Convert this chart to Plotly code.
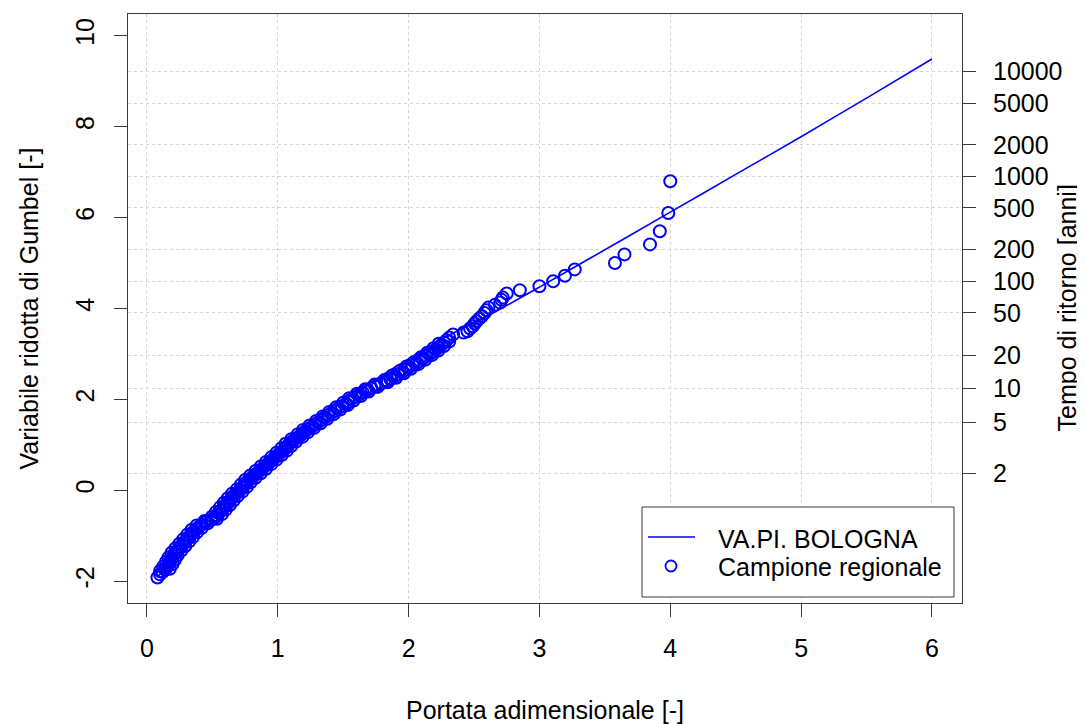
import math
import plotly.graph_objects as go

# ---- Data ----
# Regional sample (dimensionless peak flow vs Gumbel reduced variate)
sample_x = [0.08, 0.10, 0.12, 0.14, 0.15, 0.16, 0.17, 0.18, 0.19, 0.20,
            0.21, 0.225, 0.24, 0.255, 0.27, 0.285, 0.30, 0.315, 0.33, 0.345,
            0.36, 0.38, 0.40, 0.42, 0.45, 0.49, 0.52, 0.535, 0.55, 0.565,
            0.58, 0.595, 0.61, 0.625, 0.64, 0.655, 0.67, 0.69, 0.71, 0.725,
            0.74, 0.755, 0.77, 0.79, 0.81, 0.83, 0.85, 0.87, 0.89, 0.91,
            0.93, 0.95, 0.97, 0.99, 1.01, 1.03, 1.05, 1.065, 1.08, 1.10,
            1.12, 1.145, 1.17, 1.19, 1.21, 1.235, 1.26, 1.285, 1.31, 1.335,
            1.36, 1.385, 1.41, 1.435, 1.46, 1.49, 1.52, 1.54, 1.56, 1.59,
            1.62, 1.65, 1.68, 1.715, 1.75, 1.79, 1.83, 1.86, 1.89, 1.92,
            1.95, 1.975, 2.00, 2.03, 2.06, 2.085, 2.11, 2.135, 2.16, 2.185,
            2.21, 2.23, 2.25, 2.27, 2.29, 2.31, 2.34, 2.42, 2.45, 2.47,
            2.49, 2.505, 2.52, 2.54, 2.56, 2.58, 2.595, 2.61, 2.66, 2.70,
            2.71, 2.72, 2.75, 2.85, 3.00, 3.105, 3.195, 3.27, 3.577, 3.65,
            3.845, 3.92, 3.985, 4.00]
sample_y = [-1.92, -1.85, -1.80, -1.75, -1.70, -1.65, -1.60, -1.55, -1.50, -1.45,
            -1.40, -1.35, -1.30, -1.25, -1.20, -1.15, -1.10, -1.05, -1.00, -0.95,
            -0.90, -0.85, -0.80, -0.75, -0.70, -0.65, -0.60, -0.55, -0.50, -0.45,
            -0.40, -0.35, -0.30, -0.25, -0.20, -0.15, -0.10, -0.05, 0.00, 0.05,
            0.10, 0.15, 0.20, 0.25, 0.30, 0.35, 0.40, 0.45, 0.50, 0.55,
            0.60, 0.65, 0.70, 0.75, 0.80, 0.85, 0.90, 0.95, 1.00, 1.05,
            1.10, 1.15, 1.20, 1.25, 1.30, 1.35, 1.40, 1.45, 1.50, 1.55,
            1.60, 1.65, 1.70, 1.75, 1.80, 1.85, 1.90, 1.95, 2.00, 2.05,
            2.10, 2.15, 2.20, 2.25, 2.30, 2.35, 2.40, 2.45, 2.50, 2.55,
            2.60, 2.65, 2.70, 2.75, 2.80, 2.85, 2.90, 2.95, 3.00, 3.05,
            3.10, 3.15, 3.20, 3.25, 3.30, 3.36, 3.43, 3.47, 3.50, 3.56,
            3.61, 3.67, 3.72, 3.78, 3.83, 3.90, 3.96, 4.02, 4.08, 4.13,
            4.19, 4.24, 4.33, 4.40, 4.49, 4.60, 4.72, 4.86, 5.00, 5.19,
            5.41, 5.70, 6.10, 6.80]

# Further sample points in the dense part of the cloud (spread across the band)
band_x = [0.100, 0.175, 0.125, 0.195, 0.145, 0.215, 0.165, 0.235, 0.188, 0.263,
          0.218, 0.293, 0.248, 0.323, 0.278, 0.353, 0.308, 0.383, 0.340, 0.420,
          0.380, 0.465, 0.440, 0.535, 0.498, 0.573, 0.528, 0.603, 0.558, 0.633,
          0.588, 0.663, 0.618, 0.693, 0.650, 0.730, 0.688, 0.763, 0.718, 0.793,
          0.750, 0.830, 0.790, 0.870, 0.830, 0.910, 0.870, 0.950, 0.910, 0.990,
          0.950, 1.030, 0.990, 1.070, 1.028, 1.103, 1.060, 1.140, 1.103, 1.188,
          1.150, 1.230, 1.193, 1.278, 1.243, 1.328, 1.293, 1.378, 1.343, 1.428,
          1.393, 1.478, 1.445, 1.535, 1.500, 1.580, 1.545, 1.635, 1.605, 1.695,
          1.668, 1.763, 1.740, 1.840, 1.815, 1.905, 1.875, 1.965, 1.933, 2.018,
          1.985, 2.075, 2.043, 2.128, 2.093, 2.178, 2.143, 2.228, 2.190, 2.270,
          2.230, 2.310]
band_y = [-1.775, -1.725, -1.675, -1.625, -1.575, -1.525, -1.475, -1.425, -1.375, -1.325,
          -1.275, -1.225, -1.175, -1.125, -1.075, -1.025, -0.975, -0.925, -0.875, -0.825,
          -0.775, -0.725, -0.675, -0.625, -0.575, -0.525, -0.475, -0.425, -0.375, -0.325,
          -0.275, -0.225, -0.175, -0.125, -0.075, -0.025, 0.025, 0.075, 0.125, 0.175,
          0.225, 0.275, 0.325, 0.375, 0.425, 0.475, 0.525, 0.575, 0.625, 0.675,
          0.725, 0.775, 0.825, 0.875, 0.925, 0.975, 1.025, 1.075, 1.125, 1.175,
          1.225, 1.275, 1.325, 1.375, 1.425, 1.475, 1.525, 1.575, 1.625, 1.675,
          1.725, 1.775, 1.825, 1.875, 1.925, 1.975, 2.025, 2.075, 2.125, 2.175,
          2.225, 2.275, 2.325, 2.375, 2.425, 2.475, 2.525, 2.575, 2.625, 2.675,
          2.725, 2.775, 2.825, 2.875, 2.925, 2.975, 3.025, 3.075, 3.125, 3.175,
          3.225, 3.275]

# VA.PI. BOLOGNA growth curve
curve_x = [0.08, 0.20, 0.33, 0.48, 0.64, 0.80, 0.97, 1.15, 1.34, 1.55, 1.78,
           2.02, 2.30, 2.67, 3.00, 3.39, 4.00, 4.50, 5.00, 5.50, 6.00]
curve_y = [-1.92, -1.45, -1.00, -0.55, -0.15, 0.25, 0.70, 1.18, 1.62, 2.06, 2.50,
           2.93, 3.40, 3.94, 4.47, 5.11, 6.12, 6.95, 7.78, 8.63, 9.49]

# Axis ticks
x_ticks = [0, 1, 2, 3, 4, 5, 6]
y_ticks = [-2, 0, 2, 4, 6, 8, 10]
return_periods = [2, 5, 10, 20, 50, 100, 200, 500, 1000, 2000, 5000, 10000]

# Legend entries
legend_labels = ["VA.PI. BOLOGNA", "Campione regionale"]

# Gumbel reduced variate position of each return period (axis scale)
rp_pos = [-math.log(-math.log(1 - 1 / T)) for T in return_periods]
rp_text = [str(T) for T in return_periods]

FONT = "Liberation Sans, Arial, Helvetica, sans-serif"
FS = 25
BLUE = "#0000FF"
AXC = "#3a3a3a"
GRID = "#d4d4d4"

# plot area in page pixels (reference): left 128, right 962, top 14, bottom 603
PL, PR, PT, PB = 128, 962, 14, 603
PW, PH = PR - PL, PB - PT
OFF = 8  # page body offset


def px(xp):
    return (xp - PL) / PW


def py(yp):
    return (PB - yp) / PH


fig = go.Figure()
fig.add_trace(go.Scatter(
    x=sample_x + band_x, y=sample_y + band_y, mode="markers", name=legend_labels[1],
    marker=dict(symbol="circle-open", size=12, color=BLUE, line=dict(width=2.0, color=BLUE)),
    showlegend=False,
))
fig.add_trace(go.Scatter(
    x=curve_x, y=curve_y, mode="lines", name=legend_labels[0],
    line=dict(color=BLUE, width=1.6, shape="spline", smoothing=0.6),
    showlegend=False,
))
# invisible trace to activate the right axis
fig.add_trace(go.Scatter(x=[None], y=[None], yaxis="y2", showlegend=False, hoverinfo="skip"))

xr = [-0.145, 6.23]
yr = [-2.48, 10.48]

W, H = 1085 - OFF, 724 - OFF
ml, mt = PL - OFF, PT - OFF
mr = W - ml - PW
mb = H - mt - PH

shapes = [
    # legend box
    dict(type="rect", xref="paper", yref="paper", x0=px(642), x1=px(954), y0=py(597), y1=py(507),
         line=dict(color=AXC, width=1), fillcolor="white", layer="above"),
    # legend line sample
    dict(type="line", xref="paper", yref="paper", x0=px(648), x1=px(695), y0=py(537), y1=py(537),
         line=dict(color=BLUE, width=1.6), layer="above"),
    # legend circle sample
    dict(type="circle", xref="paper", yref="paper", xsizemode="pixel", ysizemode="pixel",
         xanchor=px(671), yanchor=py(566), x0=-5.5, x1=5.5, y0=-5.5, y1=5.5,
         line=dict(color=BLUE, width=1.8), layer="above"),
]

annotations = [
    dict(text="Portata adimensionale [-]", xref="paper", yref="paper",
         x=0.5, y=py(710), xanchor="center", yanchor="middle",
         showarrow=False, font=dict(family=FONT, size=FS, color="black")),
    dict(text="Variabile ridotta di Gumbel [-]", xref="paper", yref="paper",
         x=px(28), y=0.5, xanchor="center", yanchor="middle",
         textangle=-90, showarrow=False, font=dict(family=FONT, size=FS, color="black")),
    dict(text="Tempo di ritorno [anni]", xref="paper", yref="paper",
         x=px(1066), y=0.5, xanchor="center", yanchor="middle",
         textangle=-90, showarrow=False, font=dict(family=FONT, size=FS, color="black")),
    dict(text=legend_labels[0], xref="paper", yref="paper",
         x=px(716), y=py(539), xanchor="left", yanchor="middle",
         showarrow=False, font=dict(family=FONT, size=FS, color="black")),
    dict(text=legend_labels[1], xref="paper", yref="paper",
         x=px(716), y=py(567), xanchor="left", yanchor="middle",
         showarrow=False, font=dict(family=FONT, size=FS, color="black")),
]

fig.update_layout(
    width=W, height=H,
    margin=dict(l=ml, r=mr, t=mt, b=mb, autoexpand=False),
    paper_bgcolor="white", plot_bgcolor="white",
    font=dict(family=FONT, size=FS, color="black"),
    showlegend=False,
    xaxis=dict(
        range=xr, tickvals=x_ticks, ticktext=[str(v) for v in x_ticks],
        ticks="outside", ticklen=13, tickcolor=AXC, tickwidth=1,
        showline=True, linecolor=AXC, linewidth=1, mirror=True,
        showgrid=True, gridcolor=GRID, griddash="3px,3px", gridwidth=1,
        zeroline=False, ticklabelstandoff=10,
        tickfont=dict(family=FONT, size=FS, color="black"),
    ),
    yaxis=dict(
        range=yr, tickvals=y_ticks, ticktext=[str(v) for v in y_ticks],
        ticks="outside", ticklen=13, tickcolor=AXC, tickwidth=1,
        showline=True, linecolor=AXC, linewidth=1,
        showgrid=False, zeroline=False, tickangle=-90, ticklabelstandoff=10,
        tickfont=dict(family=FONT, size=FS, color="black"),
    ),
    yaxis2=dict(
        range=yr, overlaying="y", side="right", anchor="x",
        tickvals=rp_pos, ticktext=rp_text,
        ticks="outside", ticklen=13, tickcolor=AXC, tickwidth=1,
        showline=True, linecolor=AXC, linewidth=1,
        showgrid=True, gridcolor=GRID, griddash="3px,3px", gridwidth=1,
        zeroline=False, ticklabelstandoff=12,
        tickfont=dict(family=FONT, size=FS, color="black"),
    ),
    shapes=shapes,
    annotations=annotations,
)

fig.write_html("out.html")
